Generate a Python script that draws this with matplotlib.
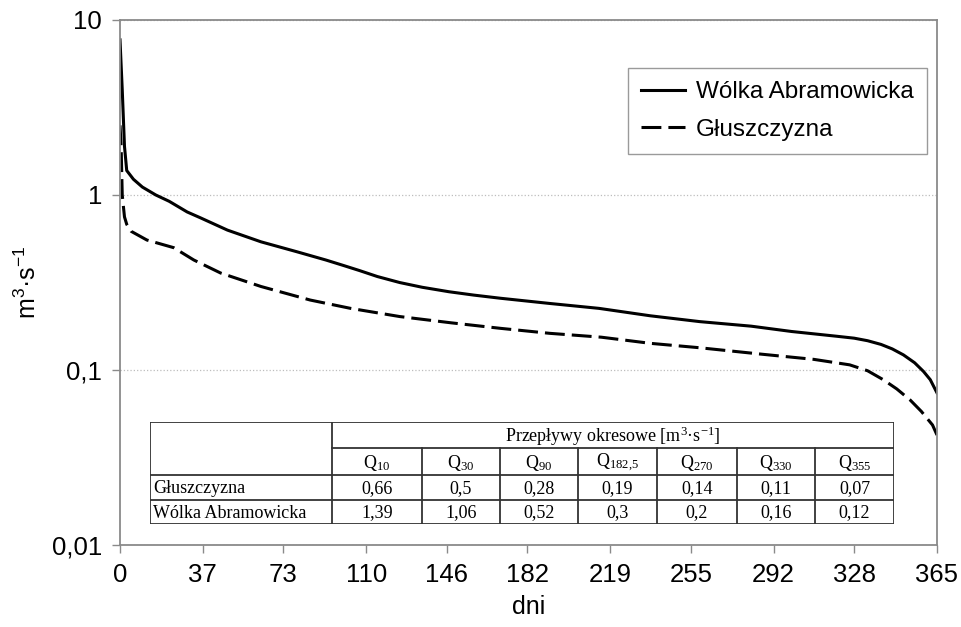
import numpy as np
import matplotlib
matplotlib.use("Agg")
import matplotlib.pyplot as plt

# ---------------------------------------------------
# Daten
# ---------------------------------------------------
days_wolka = [0, 1, 2, 3, 6, 10, 16, 22, 30, 36, 48, 63, 79, 92, 100, 107,
              115, 125, 135, 147, 158, 170, 192, 214, 237, 259, 282, 300,
              320, 328, 334, 340, 345, 350, 355, 359, 362, 365]
q_wolka = [7.7, 4.0, 1.9, 1.38, 1.23, 1.11, 1.0, 0.92, 0.80, 0.74, 0.63, 0.54,
           0.474, 0.425, 0.395, 0.37, 0.342, 0.316, 0.297, 0.28, 0.268, 0.257,
           0.24, 0.225, 0.204, 0.189, 0.178, 0.166, 0.156, 0.152, 0.147,
           0.14, 0.132, 0.122, 0.11, 0.098, 0.088, 0.074]

days_glusz = [0, 0.5, 1, 2, 3, 5, 12, 24, 33, 45, 63, 85, 103, 125, 148, 170,
              192, 215, 237, 259, 287, 310, 326, 334, 341, 347, 353, 358,
              363, 365]
q_glusz = [2.5, 1.9, 1.0, 0.75, 0.68, 0.62, 0.553, 0.50, 0.425, 0.358, 0.30,
           0.251, 0.225, 0.202, 0.186, 0.173, 0.162, 0.154, 0.142, 0.134,
           0.123, 0.115, 0.107, 0.099, 0.088, 0.078, 0.0674, 0.058, 0.0485,
           0.0425]

x_ticks = [0, 37, 73, 110, 146, 182, 219, 255, 292, 328, 365]
y_ticks = [0.01, 0.1, 1, 10]
y_tick_labels = ["0,01", "0,1", "1", "10"]

# Tabelle
table_header = "Przepływy okresowe [m$^3$·s$^{-1}$]"
q_names = ["Q$_{10}$", "Q$_{30}$", "Q$_{90}$", "Q$_{182{,}5}$",
           "Q$_{270}$", "Q$_{330}$", "Q$_{355}$"]
row_names = ["Głuszczyzna", "Wólka Abramowicka"]
row_glusz = ["0,66", "0,5", "0,28", "0,19", "0,14", "0,11", "0,07"]
row_wolka = ["1,39", "1,06", "0,52", "0,3", "0,2", "0,16", "0,12"]

# ---------------------------------------------------
# Diagramm
# ---------------------------------------------------
plt.rcParams["font.family"] = ["Liberation Sans", "DejaVu Sans"]
plt.rcParams["mathtext.default"] = "regular"

W, H = 962, 627
fig = plt.figure(figsize=(W / 100, H / 100), dpi=100)
ax = fig.add_axes([120 / W, 1 - 545 / H, 817 / W, 525 / H])

lw = 2.2
ax.plot(days_wolka, q_wolka, color="black", lw=lw, label="Wólka Abramowicka")
ax.plot(days_glusz, q_glusz, color="black", lw=lw, dashes=(6.5, 2.3),
        label="Głuszczyzna")

ax.set_yscale("log")
ax.set_ylim(0.01, 10)
ax.set_xlim(0, 365)
ax.set_yticks(y_ticks)
ax.set_yticklabels(y_tick_labels)
ax.minorticks_off()
ax.set_xticks(x_ticks)

for s in ax.spines.values():
    s.set_color("#8a8a8a")
    s.set_linewidth(1.3)
ax.tick_params(axis="both", direction="out", length=6, width=1.0,
               color="#8a8a8a", labelsize=18.5, pad=7)
ax.yaxis.grid(True, linestyle=":", color="#bdbdbd", lw=0.9)

ax.set_xlabel("dni", fontsize=18, labelpad=6)
ax.set_ylabel("m$^3$·s$^{-1}$", fontsize=18, labelpad=8)

leg = ax.legend(loc="upper right", bbox_to_anchor=(0.988, 0.909),
                fontsize=17.5, frameon=True, fancybox=False, framealpha=1,
                edgecolor="#9a9a9a", handlelength=1.8, handletextpad=0.45,
                labelspacing=0.65, borderpad=0.55, borderaxespad=0)
leg.get_frame().set_linewidth(1.0)

# ---------------------------------------------------
# Tabelle
# ---------------------------------------------------
tx0, tx1, ty0, ty1 = 150, 894, 422, 524
tab = fig.add_axes([tx0 / W, 1 - ty1 / H, (tx1 - tx0) / W, (ty1 - ty0) / H])
tab.set_xlim(tx0, tx1)
tab.set_ylim(ty1, ty0)
tab.axis("off")

col_x = [150, 332, 422, 500, 578, 657, 737, 815, 894]
row_y = [422, 448, 475, 500, 524]
lc = "#333333"
tlw = 1.3
tab.add_patch(plt.Rectangle((tx0, ty0), tx1 - tx0, ty1 - ty0, fill=False,
                            ec=lc, lw=tlw))
tab.plot([col_x[1], tx1], [row_y[1]] * 2, color=lc, lw=tlw)
for y in row_y[2:4]:
    tab.plot([tx0, tx1], [y, y], color=lc, lw=tlw)
tab.plot([col_x[1]] * 2, [ty0, ty1], color=lc, lw=tlw)
for x in col_x[2:-1]:
    tab.plot([x, x], [row_y[1], ty1], color=lc, lw=tlw)

serif = dict(family=["Liberation Serif", "DejaVu Serif"], fontsize=13)
tab.text((col_x[1] + tx1) / 2, (row_y[0] + row_y[1]) / 2 + 1, table_header,
         ha="center", va="center", **serif)
for i, name in enumerate(q_names):
    xc = (col_x[i + 1] + col_x[i + 2]) / 2
    tab.text(xc, (row_y[1] + row_y[2]) / 2 + 1, name, ha="center",
             va="center", **serif)
    tab.text(xc, (row_y[2] + row_y[3]) / 2 + 1, row_glusz[i], ha="center",
             va="center", **serif)
    tab.text(xc, (row_y[3] + row_y[4]) / 2 + 1, row_wolka[i], ha="center",
             va="center", **serif)
for j, name in enumerate(row_names):
    tab.text(tx0 + 3, (row_y[j + 2] + row_y[j + 3]) / 2 + 1, name,
             ha="left", va="center", **serif)

fig.savefig("out.png", dpi=100)
